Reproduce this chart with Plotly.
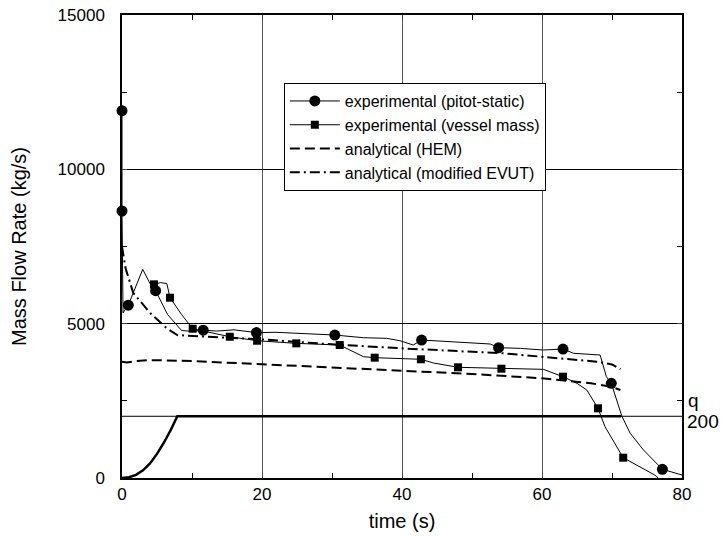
import plotly.graph_objects as go

# ---- data ----
pitot_line_t = [0, 0, 0.15, 0.9, 2.96, 4.0, 4.8, 6.5, 8.5, 10.0, 11.6, 13.5, 16.0, 19.2, 22.0, 25.0,
                27.3, 30.4, 34.5, 37.8, 39.7, 41.6, 42.8, 46.4, 52.6, 53.8, 56.9, 60.2, 63.0,
                64.5, 68.3, 69.2, 69.9, 71.4, 72.6, 74.5, 77.2, 80.0]
pitot_line_q = [11900, 8650, 5350, 5600, 6760, 6300, 6070, 5300, 4780, 4750, 4790, 4760, 4800, 4710,
                4720, 4680, 4665, 4632, 4545, 4525, 4448, 4308, 4470, 4416, 4341, 4222, 4200,
                4146, 4178, 4040, 3985, 3282, 3067, 2008, 1448, 907, 282, 97]
pitot_mark_t = [0, 0, 0.9, 4.8, 11.6, 19.2, 30.4, 42.8, 53.8, 63.0, 69.9, 77.2]
pitot_mark_q = [11900, 8650, 5600, 6070, 4790, 4710, 4632, 4470, 4222, 4178, 3067, 282]

vessel_line_t = [4.57, 5.5, 6.4, 6.86, 8.5, 10.1, 15.4, 19.3, 24.9, 31.1, 34.5, 36.1, 42.7,
                 44.5, 48.0, 54.2, 60.2, 63.0, 65.0, 66.4, 68.0, 69.0, 71.6, 76.1, 76.6]
vessel_line_q = [6274, 6330, 6300, 5841, 5300, 4836, 4577, 4448, 4362, 4308, 3930, 3898, 3846,
                 3725, 3586, 3541, 3520, 3282, 3067, 2850, 2258, 1662, 658, 97, 0]
vessel_mark_t = [4.57, 6.86, 10.1, 15.4, 19.3, 24.9, 31.1, 36.1, 42.7, 48.0, 54.2, 63.0, 68.0, 71.6]
vessel_mark_q = [6274, 5841, 4836, 4577, 4448, 4362, 4308, 3898, 3846, 3586, 3541, 3282, 2258, 658]

hem_t = [0, 0.7, 2, 4, 10, 20, 30, 40, 50, 60, 67, 70, 71.2]
hem_q = [3770, 3740, 3790, 3820, 3790, 3690, 3590, 3490, 3370, 3230, 3070, 2950, 2850]

evut_t = [0, 0.5, 1.6, 4.0, 6.4, 7.9, 12, 20, 30, 40, 54.4, 62, 67.8, 70, 71.2]
evut_q = [7500, 6800, 6000, 5350, 4850, 4630, 4580, 4490, 4330, 4200, 4040, 3900, 3770, 3680, 3530]

q_t = [0, 1, 2, 3, 4, 5, 6, 7, 7.9, 71.3]
q_v = [0, 25, 100, 250, 470, 780, 1150, 1570, 2000, 2000]

ref_level = 2000
x_ticks = [0, 20, 40, 60, 80]
x_labels = ["0", "20", "40", "60", "80"]
y_ticks = [0, 5000, 10000, 15000]
y_labels = ["0", "5000", "10000", "15000"]

FONT = "Liberation Sans, Arial, sans-serif"

fig = go.Figure()

fig.add_trace(go.Scatter(x=q_t, y=q_v, mode="lines", line=dict(color="black", width=2.5),
                         showlegend=False, hoverinfo="skip"))
fig.add_trace(go.Scatter(x=hem_t, y=hem_q, mode="lines",
                         line=dict(color="black", width=2, dash="10px,5px"), showlegend=False))
fig.add_trace(go.Scatter(x=evut_t, y=evut_q, mode="lines",
                         line=dict(color="black", width=2, dash="10px,4px,2px,4px"), showlegend=False))
fig.add_trace(go.Scatter(x=pitot_line_t, y=pitot_line_q, mode="lines",
                         line=dict(color="black", width=1), showlegend=False))
fig.add_trace(go.Scatter(x=vessel_line_t, y=vessel_line_q, mode="lines",
                         line=dict(color="black", width=1), showlegend=False))
fig.add_trace(go.Scatter(x=pitot_mark_t, y=pitot_mark_q, mode="markers",
                         marker=dict(symbol="circle", size=11, color="black"),
                         cliponaxis=False, showlegend=False))
fig.add_trace(go.Scatter(x=vessel_mark_t, y=vessel_mark_q, mode="markers",
                         marker=dict(symbol="square", size=8, color="black"),
                         cliponaxis=False, showlegend=False))

fig.add_trace(go.Scatter(x=[None], y=[None], mode="lines+markers", name="experimental (pitot-static)",
                         line=dict(color="black", width=1),
                         marker=dict(symbol="circle", size=11, color="black")))
fig.add_trace(go.Scatter(x=[None], y=[None], mode="lines+markers", name="experimental (vessel mass)",
                         line=dict(color="black", width=1),
                         marker=dict(symbol="square", size=8, color="black")))
fig.add_trace(go.Scatter(x=[None], y=[None], mode="lines", name="analytical (HEM)",
                         line=dict(color="black", width=2, dash="10px,5px")))
fig.add_trace(go.Scatter(x=[None], y=[None], mode="lines", name="analytical (modified EVUT)",
                         line=dict(color="black", width=2, dash="10px,4px,2px,4px")))

fig.add_hline(y=ref_level, line=dict(color="black", width=1), layer="below")

fig.add_annotation(x=1, y=2500, xref="paper", yref="y", xanchor="left", yanchor="middle",
                   xshift=4, text="q", showarrow=False, font=dict(family=FONT, size=19, color="black"))
fig.add_annotation(x=1, y=ref_level, xref="paper", yref="y", xanchor="left", yanchor="middle",
                   xshift=3, yshift=-5, text="200", showarrow=False,
                   font=dict(family=FONT, size=19, color="black"))

fig.update_layout(
    width=725, height=536,
    margin=dict(l=122, r=43, t=15, b=58, autoexpand=False),
    paper_bgcolor="white", plot_bgcolor="white",
    font=dict(family=FONT, size=17, color="black"),
    showlegend=True,
    legend=dict(x=0.289, y=0.853, xanchor="left", yanchor="top",
                bordercolor="black", borderwidth=1, bgcolor="white",
                font=dict(family=FONT, size=16, color="black"),
                itemwidth=50, tracegroupgap=0),
    xaxis=dict(range=[0, 80], tickvals=x_ticks, ticktext=x_labels, ticks="inside", ticklen=5,
               showline=True, linecolor="black", linewidth=1.5, mirror="ticks",
               showgrid=True, gridcolor="#555555", gridwidth=1, zeroline=False, automargin=False,
               minor=dict(dtick=10, ticks="inside", ticklen=5, tickcolor="black", showgrid=False),
               title=dict(text="time (s)", standoff=11), tickfont=dict(size=17)),
    yaxis=dict(range=[0, 15000], tickvals=y_ticks, ticktext=y_labels, ticks="inside", ticklen=5,
               showline=True, linecolor="black", linewidth=1.5, mirror="ticks",
               showgrid=True, gridcolor="black", gridwidth=1, zeroline=False, automargin=False,
               minor=dict(dtick=2500, ticks="inside", ticklen=5, tickcolor="black", showgrid=False),
               ticklabelstandoff=12,
               title=dict(text="Mass Flow Rate (kg/s)", standoff=26), tickfont=dict(size=17)),
)

fig.write_html("out.html", config={"displayModeBar": False},
               post_script="document.body.style.margin='0';document.body.style.padding='0';")
